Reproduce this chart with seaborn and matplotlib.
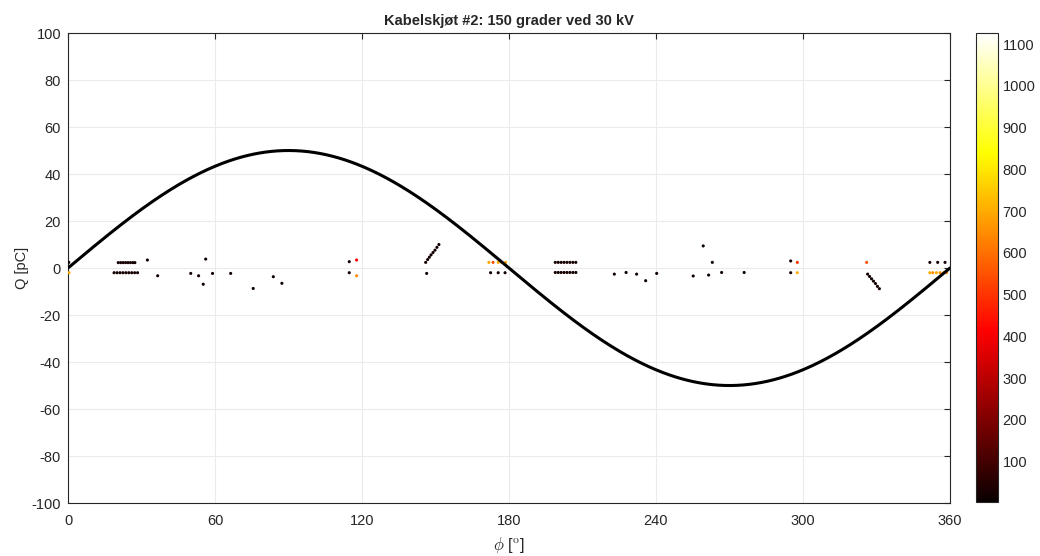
import numpy as np
import pandas as pd
import matplotlib
matplotlib.use("Agg")
import matplotlib.pyplot as plt
import seaborn as sns

# PRPD scatter: phase [deg], charge [pC], pulse count
phase = [
    0.3, 0.4,
    20.5, 21.5, 22.5, 23.5, 24.5, 25.5, 26.5, 27.3,
    18.8, 20.0, 21.2, 22.4, 23.6, 24.8, 26.0, 27.2, 28.4,
    32.4, 36.6, 50.1, 53.3, 55.2, 56.2, 59.0, 66.4, 75.6, 83.8, 87.3,
    114.8, 117.8, 114.8, 117.8,
    146.0, 146.8, 147.5, 148.2, 149.0, 149.8, 150.6, 151.4, 146.4,
    171.8, 173.5, 175.6, 177.0, 178.6, 172.5, 175.6, 178.4,
    198.9, 200.1, 201.3, 202.5, 203.7, 204.9, 206.1, 207.3,
    198.9, 200.1, 201.3, 202.5, 203.7, 204.9, 206.1, 207.3,
    223.0, 227.8, 232.1, 235.8, 240.3, 255.2, 259.3, 261.5, 263.0, 266.8, 276.0,
    295.0, 297.7, 295.0, 297.7,
    326.0, 326.4, 327.2, 328.0, 328.8, 329.6, 330.4, 331.2,
    351.8, 355.0, 358.0,
    351.8, 353.0, 354.5, 356.0, 357.5, 358.6,
]
charge = [
    2.4, -2.0,
    2.3, 2.3, 2.3, 2.3, 2.3, 2.3, 2.3, 2.3,
    -2.0, -2.0, -2.0, -2.0, -2.0, -2.0, -2.0, -2.0, -2.0,
    3.4, -3.3, -2.3, -3.3, -6.9, 3.8, -2.3, -2.3, -8.7, -3.7, -6.5,
    2.7, 3.4, -2.0, -3.3,
    2.4, 3.6, 4.6, 5.6, 6.6, 7.6, 8.8, 10.0, -2.3,
    2.4, 2.4, 2.4, 2.4, 2.4, -2.0, -2.0, -2.0,
    2.4, 2.4, 2.4, 2.4, 2.4, 2.4, 2.4, 2.4,
    -1.9, -1.9, -1.9, -1.9, -1.9, -1.9, -1.9, -1.9,
    -2.6, -1.9, -2.6, -5.4, -2.3, -3.4, 9.4, -3.0, 2.4, -1.9, -1.9,
    3.0, 2.4, -2.0, -2.0,
    2.4, -2.6, -3.6, -4.6, -5.6, -6.6, -7.8, -8.8,
    2.4, 2.4, 2.4,
    -2.0, -2.0, -2.0, -2.0, -2.0, -2.0,
]
count = [
    20, 700,
    20, 30, 20, 30, 20, 30, 20, 20,
    20, 30, 20, 30, 20, 30, 20, 30, 20,
    10, 10, 10, 10, 10, 10, 10, 10, 10, 10, 10,
    30, 400, 30, 650,
    20, 20, 20, 20, 20, 20, 20, 20, 10,
    700, 550, 700, 650, 700, 20, 20, 20,
    30, 20, 30, 20, 30, 20, 30, 20,
    30, 20, 30, 20, 30, 20, 30, 20,
    10, 10, 10, 10, 10, 10, 10, 10, 10, 10, 10,
    30, 500, 30, 700,
    550, 20, 20, 20, 20, 20, 20, 20,
    30, 30, 30,
    700, 650, 700, 650, 700, 650,
]

sine_amplitude = 50  # test voltage reference [pC scale]
clim = (4, 1126)

df = pd.DataFrame({"phase": phase, "charge": charge, "count": count})

sns.set_style("white")
plt.rcParams["font.family"] = ["Liberation Sans", "DejaVu Sans"]
plt.rcParams["mathtext.fontset"] = "cm"
plt.rcParams["axes.unicode_minus"] = False

fig = plt.figure(figsize=(10.4, 5.56), dpi=100)
ax = fig.add_axes([0.0654, 0.0953, 0.848, 0.8453])
cax = fig.add_axes([0.938, 0.0977, 0.0212, 0.8424])

ax.grid(True, color="#ebebeb", linewidth=0.8)
ax.set_axisbelow(True)

sns.scatterplot(data=df, x="phase", y="charge", hue="count", palette="hot",
                hue_norm=clim, s=5, linewidth=0, legend=False, ax=ax, zorder=3)

ref_phi = np.linspace(0, 360, 721)
sns.lineplot(x=ref_phi, y=sine_amplitude * np.sin(np.deg2rad(ref_phi)),
             color="black", linewidth=2.2, ax=ax, zorder=4)

ax.set_xlim(0, 360)
ax.set_ylim(-100, 100)
ax.set_xticks(range(0, 361, 60))
ax.set_yticks(range(-100, 101, 20))
ax.tick_params(direction="in", length=4, top=True, right=True,
               labelsize=10.5, color="#262626", labelcolor="#262626")
ax.tick_params(axis="x", pad=8)
ax.tick_params(axis="y", pad=5)
for sp in ax.spines.values():
    sp.set_color("#262626")
    sp.set_linewidth(0.8)

ax.set_title("Kabelskjøt #2: 150 grader ved 30 kV", fontsize=10.5,
             fontweight="bold", pad=6)
ax.set_xlabel(r"$\phi$ [$^{\rm o}$]", fontsize=12, color="#262626", labelpad=5)
ax.set_ylabel("Q [pC]", fontsize=10.5, color="#262626", labelpad=2)

sm = plt.cm.ScalarMappable(cmap="hot", norm=plt.Normalize(*clim))
cb = fig.colorbar(sm, cax=cax)
cb.set_ticks(range(100, 1101, 100))
cb.ax.tick_params(direction="in", length=4, labelsize=10.5, color="#262626",
                  labelcolor="#262626", pad=3.5)
cb.outline.set_edgecolor("#262626")
cb.outline.set_linewidth(0.8)

fig.savefig("out.png", dpi=100)
